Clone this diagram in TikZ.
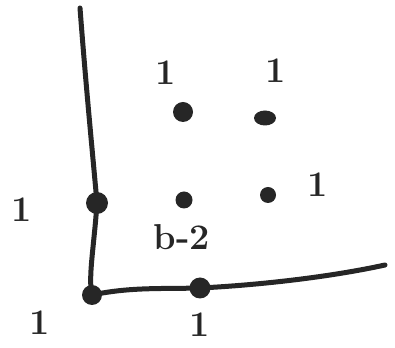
\documentclass[tikz,border=0pt]{standalone}
\usetikzlibrary{shapes.geometric}
\begin{document}
\begin{tikzpicture}[x=1pt,y=1pt,
  dot/.style={circle,fill=black!85,inner sep=0pt,minimum size=#1},
  dot/.default=18pt,
  axisline/.style={draw=black!85,line width=5pt,line cap=round,line join=round},
  lbl/.style={font=\fontsize{36}{36}\selectfont\bfseries,text=black!85,inner sep=0pt}]
\useasboundingbox (0,0) rectangle (395,347);
% axis points
\coordinate (top) at (80,339);
\node[dot=22pt] (v1) at (97,144) {};
\node[dot=20pt] (o) at (92,52) {};
\node[dot=21pt] (h1) at (200,59) {};
\coordinate (rend) at (385,82);
\draw[axisline] (top) .. controls (86,260) and (92,200) .. (v1.center)
  .. controls (94,100) and (88,70) .. (o.center)
  .. controls (130,60) and (160,58) .. (h1.center)
  .. controls (260,62) and (330,70) .. (rend);
% interior points
\node[dot=20pt] (p1) at (183,235) {};
\node[ellipse,fill=black!85,minimum width=22pt,minimum height=15pt,inner sep=0pt] (p2) at (265,229) {};
\node[dot=17pt] (p3) at (184,147) {};
\node[dot=16pt] (p4) at (268,152) {};
% labels
\node[lbl] (l1) at (166,274) {1};
\node[lbl] (l2) at (276,276) {1};
\node[lbl] (l3) at (318,162) {1};
\node[lbl] (l4) at (182,110) {b-2};
\node[lbl] (l5) at (22,137) {1};
\node[lbl] (l6) at (40,24) {1};
\node[lbl] (l7) at (200,22) {1};
\end{tikzpicture}
\end{document}
